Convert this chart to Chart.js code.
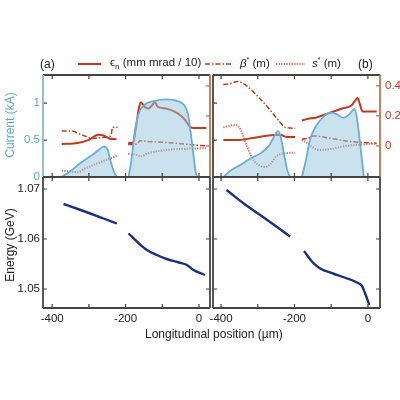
<!DOCTYPE html>
<html><head><meta charset="utf-8">
<script src="https://cdn.jsdelivr.net/npm/chart.js@4"></script>
<style>
body{margin:0;width:400px;height:400px;background:#fff;position:relative;overflow:hidden;font-family:"Liberation Sans",Arial,sans-serif}
canvas{position:absolute;left:0;top:0}
.t{position:absolute;font-size:11.5px;color:#222;white-space:nowrap}
.r{position:absolute;transform:translate(-50%,-50%) rotate(-90deg);font-size:12px;white-space:nowrap}
</style></head><body>
<canvas id="c1" width="400" height="400"></canvas>
<canvas id="c2" width="400" height="400"></canvas>
<canvas id="c3" width="400" height="400"></canvas>
<canvas id="c4" width="400" height="400"></canvas>
<div class="t" style="left:40px;top:57px;font-size:12px">(a)</div>
<div class="t" style="left:358px;top:57px;font-size:12px">(b)</div>
<svg style="position:absolute;left:0;top:0" width="400" height="80">
<line x1="78" y1="64" x2="101" y2="64" stroke="#c0391b" stroke-width="2"/>
<line x1="205" y1="64" x2="232" y2="64" stroke="#c0391b" stroke-width="1.6" stroke-dasharray="5,2,1.5,2"/>
<line x1="276" y1="64" x2="305" y2="64" stroke="#d9735a" stroke-width="2" stroke-dasharray="1.3,1.3"/>
</svg>
<div class="t" style="left:110px;top:56px">ϵ<sub style="font-size:8px">n</sub> (mm mrad / 10)</div>
<div class="t" style="left:240px;top:56px"><i>β</i><sup style="font-size:7px">*</sup> (m)</div>
<div class="t" style="left:312px;top:56px"><i>s</i><sup style="font-size:7px">*</sup> (m)</div>
<div class="r" style="left:10px;top:125px;color:#5aa7d6">Current (kA)</div>
<div class="r" style="left:10px;top:245px;color:#222">Energy (GeV)</div>
<div class="t" style="left:145px;top:327px;font-size:12px">Longitudinal position (µm)</div>
<script>
// ---- data ----
const curA1=[[-374,0],[-350,0.08],[-320,0.2],[-290,0.3],[-270,0.38],[-260,0.41],[-250,0.38],[-240,0.2],[-230,0.05],[-224,0]];
const curA2=[[-192,0],[-185,0.2],[-175,0.6],[-165,0.85],[-150,0.97],[-120,1.03],[-90,1.05],[-60,1.03],[-40,0.97],[-30,0.85],[-20,0.5],[-10,0.1],[-6,0]];
const epsA1=[[-374,0.013],[-330,0.02],[-300,0.04],[-275,0.075],[-260,0.07],[-245,0.05],[-225,0.045]];
const epsA2=[[-193,0.02],[-180,0.02],[-172,0.12],[-163,0.26],[-158,0.29],[-148,0.26],[-138,0.25],[-128,0.27],[-120,0.29],[-112,0.26],[-90,0.25],[-60,0.22],[-40,0.18],[-25,0.13],[-15,0.12],[20,0.12]];
const betA1=[[-374,0.10],[-350,0.10],[-320,0.075],[-290,0.05],[-270,0.055],[-250,0.06],[-240,0.07],[-235,0.125],[-222,0.125]];
const betA2=[[-193,0.01],[-170,0.012],[-160,0.035],[-140,0.03],[-100,0.025],[-50,0.015],[20,0.0]];
const sA1=[[-374,-0.165],[-350,-0.17],[-330,-0.175],[-310,-0.15],[-280,-0.12],[-250,-0.09],[-222,-0.065]];
const sA2=[[-193,-0.053],[-170,-0.06],[-160,-0.07],[-140,-0.05],[-100,-0.03],[-50,-0.02],[20,-0.015]];
const curB1=[[-394,0],[-370,0.1],[-345,0.17],[-320,0.25],[-290,0.33],[-270,0.42],[-255,0.55],[-245,0.62],[-238,0.55],[-228,0.3],[-220,0.1],[-212,0]];
const curB2=[[-180,0],[-170,0.2],[-158,0.5],[-140,0.7],[-120,0.82],[-105,0.87],[-85,0.85],[-67,0.8],[-50,0.85],[-37,0.92],[-30,0.8],[-20,0.4],[-11,0]];
const epsB1=[[-394,0.04],[-350,0.04],[-310,0.055],[-270,0.07],[-240,0.075],[-220,0.06],[-198,0.06]];
const epsB2=[[-180,0.17],[-165,0.18],[-140,0.19],[-105,0.22],[-70,0.25],[-45,0.27],[-35,0.3],[-28,0.32],[-22,0.28],[-15,0.23],[24,0.23]];
const betB1=[[-394,0.41],[-375,0.415],[-355,0.43],[-330,0.4],[-300,0.33],[-270,0.25],[-240,0.16],[-225,0.125],[-198,0.118]];
const betB2=[[-180,0.045],[-165,0.05],[-148,0.067],[-100,0.05],[-50,0.03],[24,0.018]];
const sB1=[[-394,0.125],[-360,0.14],[-345,0.1],[-330,0.0],[-310,-0.1],[-295,-0.13],[-280,-0.14],[-265,-0.12],[-250,-0.07],[-230,-0.05],[-198,-0.045]];
const sB2=[[-180,0.04],[-165,0.02],[-150,-0.01],[-130,-0.027],[-100,-0.02],[-60,0.0],[24,0.015]];
const enA1=[[-369,1.0670],[-330,1.0660],[-300,1.0652],[-260,1.0641],[-224,1.0631]];
const enA2=[[-192,1.0611],[-165,1.0592],[-142,1.0578],[-115,1.0568],[-88,1.0560],[-55,1.0553],[-33,1.0548],[-15,1.0538],[16,1.0528]];
const enB1=[[-385,1.0698],[-340,1.0672],[-280,1.0641],[-240,1.0620],[-212,1.0605]];
const enB2=[[-174,1.0576],[-150,1.0553],[-130,1.0541],[-95,1.0531],[-60,1.0522],[-30,1.0513],[-16,1.0506],[-8,1.0492],[4,1.0468]];
const xTicks=[-400,-300,-200,-100,0];
const xLabels=[-400,-200,0];
const curTicks=[0,0.5,1];
const rightTicks=[0,0.2,0.4];
const enTicks=[1.05,1.06,1.07];

const P=a=>a.map(p=>({x:p[0],y:p[1]}));
const RED='#c0391b',LRED='#d9735a',BLUE='#6aaed6',GRAY='#444';
const framePlugin={id:'frame',afterDraw(ch,args,o){
  const c=ch.ctx,a=ch.chartArea;c.save();c.lineWidth=1.2;
  (o.ticks||[]).forEach(t=>{const s=ch.scales[t.scale];c.strokeStyle=t.color||GRAY;c.beginPath();
    t.vals.forEach(v=>{const p=s.getPixelForValue(v);
      t.sides.forEach(sd=>{
        if(sd==='top'){c.moveTo(p,a.top);c.lineTo(p,a.top+4);}
        if(sd==='bottom'){c.moveTo(p,a.bottom);c.lineTo(p,a.bottom-4);}
        if(sd==='left'){c.moveTo(a.left,p);c.lineTo(a.left+4,p);}
        if(sd==='right'){c.moveTo(a.right,p);c.lineTo(a.right-4,p);}
      });});c.stroke();});
  c.lineWidth=1.8;const f=o.frame;
  [['top',a.left,a.top,a.right,a.top],['bottom',a.left,a.bottom,a.right,a.bottom],['left',a.left,a.top,a.left,a.bottom],['right',a.right,a.top,a.right,a.bottom]].forEach(e=>{
    c.strokeStyle=f[e[0]];c.beginPath();c.moveTo(e[1],e[2]);c.lineTo(e[3],e[4]);c.stroke();});
  c.restore();}};
Chart.register(framePlugin);
const font={family:'"Liberation Sans",Arial,sans-serif',size:11.5};
const setT=vals=>s=>{s.ticks=vals.map(v=>({value:v}));};
const G={display:false,drawTicks:false};
const lineOpt={tension:0.35,cubicInterpolationMode:'monotone',pointRadius:0,fill:false};
function topChart(id,L,R,cur1,cur2,e1,e2,b1,b2,s1,s2,showLeft,showRight,xmin,xmax){
  const ds=[];
  [cur1,cur2].forEach(d=>ds.push({...lineOpt,data:P(d),yAxisID:'y',borderColor:BLUE,borderWidth:1.8,backgroundColor:'rgba(150,196,222,0.5)',fill:'origin'}));
  [e1,e2].forEach(d=>ds.push({...lineOpt,data:P(d),yAxisID:'y2',borderColor:RED,borderWidth:2}));
  [b1,b2].forEach(d=>ds.push({...lineOpt,data:P(d),yAxisID:'y2',borderColor:RED,borderWidth:1.5,borderDash:[5,2,1.5,2]}));
  [s1,s2].forEach(d=>ds.push({...lineOpt,data:P(d),yAxisID:'y2',borderColor:LRED,borderWidth:2,borderDash:[1.3,1.3]}));
  new Chart(document.getElementById(id),{type:'line',data:{datasets:ds},options:{
    responsive:false,animation:false,events:[],
    layout:{padding:{left:0,top:75,right:0,bottom:0}},
    plugins:{legend:{display:false},tooltip:{enabled:false},
      frame:{frame:{top:GRAY,bottom:GRAY,left:showLeft?'#8fb7d0':GRAY,right:'#c8704e'},
        ticks:[{scale:'x',vals:xTicks,sides:['top','bottom']},{scale:'y',vals:curTicks,sides:['left']},{scale:'y2',vals:rightTicks,sides:['right'],color:'#c8704e'}]}},
    scales:{
      x:{type:'linear',min:xmin,max:xmax,grid:G,border:{display:false},ticks:{display:false},afterBuildTicks:setT(xTicks),afterFit:s=>{s.height=400-177;}},
      y:{min:0,max:1.38,position:'left',grid:G,border:{display:false},afterBuildTicks:setT(curTicks),
        ticks:{display:showLeft,autoSkip:false,color:'#5aa7d6',font,padding:3,callback:v=>String(v)},afterFit:s=>{s.width=L;}},
      y2:{min:-0.207,max:0.473,position:'right',grid:G,border:{display:false},afterBuildTicks:setT(rightTicks),
        ticks:{display:showRight,autoSkip:false,color:'#c0391b',font,padding:5,callback:v=>v===0?'0':v.toFixed(1)},afterFit:s=>{s.width=400-R;}}
    }}});
}
function botChart(id,L,R,s1,s2,xmin,xmax,showLeft){
  const ds=[];
  [s1,s2].forEach(d=>{
    ds.push({...lineOpt,data:P(d),borderColor:'#1c2f86',borderWidth:2.4});
    ds.push({...lineOpt,data:P(d),borderColor:'#3f95c0',borderWidth:1.0});
    ds.push({...lineOpt,data:P(d),borderColor:'#c9d94e',borderWidth:0.5});
  });
  new Chart(document.getElementById(id),{type:'line',data:{datasets:ds},options:{
    responsive:false,animation:false,events:[],
    layout:{padding:{left:0,top:177,right:0,bottom:0}},
    plugins:{legend:{display:false},tooltip:{enabled:false},
      frame:{frame:{top:GRAY,bottom:GRAY,left:GRAY,right:GRAY},
        ticks:[{scale:'x',vals:xTicks,sides:['top','bottom']},{scale:'y',vals:enTicks,sides:['left','right']}]}},
    scales:{
      x:{type:'linear',min:xmin,max:xmax,grid:G,border:{display:false},afterBuildTicks:setT(xLabels),
        ticks:{autoSkip:false,color:'#222',font,padding:4,maxRotation:0,callback:v=>String(v)},afterFit:s=>{s.height=400-308;}},
      y:{min:1.0462,max:1.0724,grid:G,border:{display:false},afterBuildTicks:setT(enTicks),
        ticks:{display:showLeft,autoSkip:false,color:'#222',font,padding:3,callback:v=>v.toFixed(2)},afterFit:s=>{s.width=L;}},
      yr:{display:true,position:'right',min:0,max:1,grid:G,border:{display:false},ticks:{display:false},afterFit:s=>{s.width=400-R;}}
    }}});
}
topChart('c1',43,210,curA1,curA2,epsA1,epsA2,betA1,betA2,sA1,sA2,true,false,-425,30);
topChart('c2',213,380,curB1,curB2,epsB1,epsB2,betB1,betB2,sB1,sB2,false,true,-422,33);
botChart('c3',43,210,enA1,enA2,-425,30,true);
botChart('c4',213,380,enB1,enB2,-422,33,false);
</script></body></html>
